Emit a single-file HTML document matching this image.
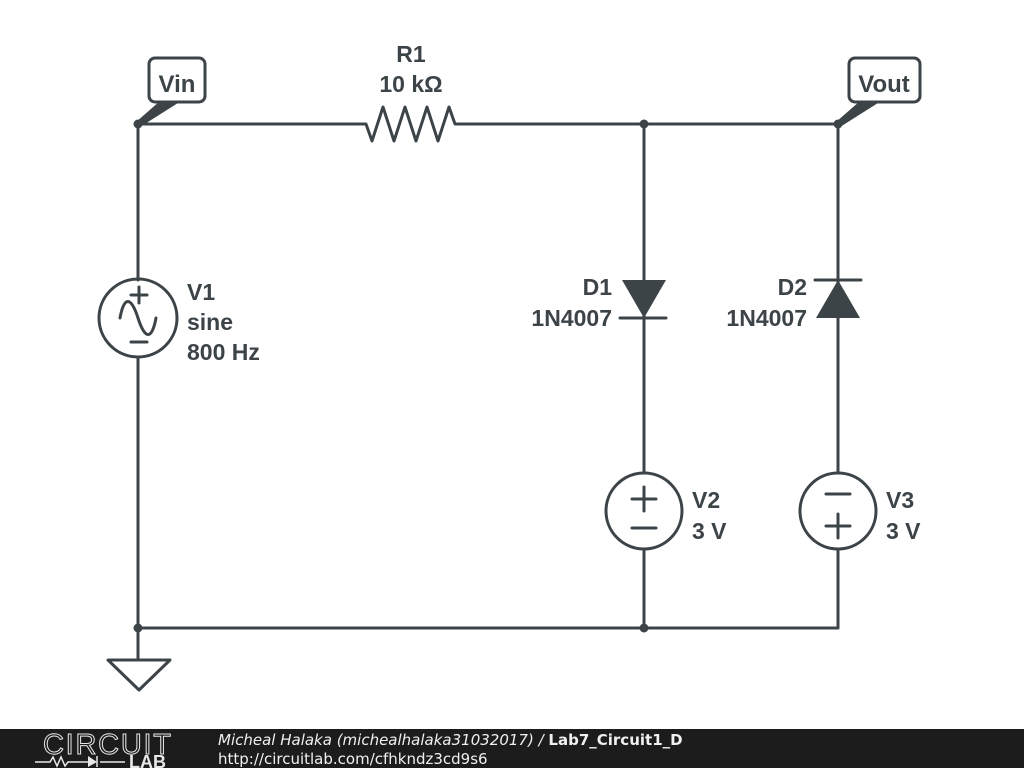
<!DOCTYPE html>
<html><head><meta charset="utf-8"><style>
html,body{margin:0;padding:0;background:#fff;width:1024px;height:768px;overflow:hidden}
svg{display:block}
text{font-family:"Liberation Sans",sans-serif;font-weight:bold;fill:#3d4448}
</style></head><body>
<svg width="1024" height="768" viewBox="0 0 1024 768">
<g stroke="#3d4448" stroke-width="3" fill="none" stroke-linecap="round" stroke-linejoin="round">
<polyline points="138,124 366,124 372,141 383,107 394,141 405,107 416,141 427,107 438,141 449,107 455,124 838,124"/>
<line x1="138" y1="124" x2="138" y2="280"/>
<line x1="138" y1="357" x2="138" y2="628"/>
<circle cx="138" cy="318" r="39"/>
<line x1="131" y1="295" x2="147" y2="295"/><line x1="139" y1="287" x2="139" y2="303"/>
<line x1="131" y1="342" x2="147" y2="342"/>
<path d="M120,318 C124,296 131,296 138,318 C145,340 152,340 156,318"/>
<line x1="138" y1="628" x2="838" y2="628"/>
<line x1="138" y1="628" x2="138" y2="660"/>
<polygon points="108,660 170,660 139,690"/>
<line x1="644" y1="124" x2="644" y2="473"/>
<line x1="644" y1="549" x2="644" y2="628"/>
<line x1="620" y1="318" x2="666" y2="318"/>
<circle cx="644" cy="511" r="38"/>
<line x1="632" y1="499" x2="656" y2="499"/><line x1="644" y1="487" x2="644" y2="511"/>
<line x1="632" y1="528" x2="656" y2="528"/>
<line x1="838" y1="124" x2="838" y2="473"/>
<line x1="838" y1="549" x2="838" y2="628"/>
<line x1="815" y1="280" x2="861" y2="280"/>
<circle cx="838" cy="511" r="38"/>
<line x1="826" y1="494" x2="850" y2="494"/>
<line x1="826" y1="526" x2="850" y2="526"/><line x1="838" y1="514" x2="838" y2="538"/>
<rect x="149" y="58" width="56" height="44" rx="6"/>
<rect x="849" y="58" width="71" height="44" rx="6"/>
</g>
<g fill="#3d4448">
<polygon points="622,280 666,280 644,318"/>
<polygon points="816,318 860,318 838,280"/>
<circle cx="138" cy="124" r="4.5"/><circle cx="644" cy="124" r="4.5"/><circle cx="838" cy="124" r="4.5"/>
<circle cx="138" cy="628" r="4.5"/><circle cx="644" cy="628" r="4.5"/>
<polygon points="136,122 140,127 178,103 160,101"/>
<polygon points="836,122 840,127 878,103 860,101"/>
</g>
<text x="177" y="92" font-size="24" text-anchor="middle">Vin</text>
<text x="884" y="92" font-size="24" text-anchor="middle">Vout</text>
<text x="411" y="62" font-size="23" text-anchor="middle">R1</text>
<text x="411" y="92" font-size="23" text-anchor="middle">10 kΩ</text>
<text x="187" y="300" font-size="23">V1</text>
<text x="187" y="330" font-size="23">sine</text>
<text x="187" y="360" font-size="23">800 Hz</text>
<text x="612" y="295" font-size="23" text-anchor="end">D1</text>
<text x="612" y="326" font-size="23" text-anchor="end">1N4007</text>
<text x="807" y="295" font-size="23" text-anchor="end">D2</text>
<text x="807" y="326" font-size="23" text-anchor="end">1N4007</text>
<text x="692" y="508" font-size="23">V2</text>
<text x="692" y="539" font-size="23">3 V</text>
<text x="886" y="508" font-size="23">V3</text>
<text x="886" y="539" font-size="23">3 V</text>
<rect x="0" y="729" width="1024" height="39" fill="#1c1c1c"/>
<text x="43" y="754" font-size="29" textLength="128" style="font-weight:normal;fill:none;stroke:#e8e8e8;stroke-width:1">CIRCUIT</text>
<g stroke="#e8e8e8" stroke-width="1.5" fill="none">
<polyline points="35,762 50,762 53,757 57,766 61,757 65,766 68,762 88,762"/>
<line x1="100" y1="762" x2="125" y2="762"/>
<line x1="97" y1="756" x2="97" y2="767"/>
</g>
<polygon points="88,756 88,767 97,762" fill="#e8e8e8"/>
<text x="129" y="768" font-size="18" style="fill:#e8e8e8">LAB</text>
<text x="218" y="745" font-size="15" style="font-family:'DejaVu Sans',sans-serif;font-weight:normal;font-style:italic;fill:#f0f0f0">Micheal Halaka (michealhalaka31032017) / <tspan style="font-style:normal;font-weight:bold">Lab7_Circuit1_D</tspan></text>
<text x="218" y="764" font-size="15" style="font-family:'DejaVu Sans',sans-serif;font-weight:normal;fill:#f0f0f0">http://circuitlab.com/cfhkndz3cd9s6</text>
</svg>
</body></html>
